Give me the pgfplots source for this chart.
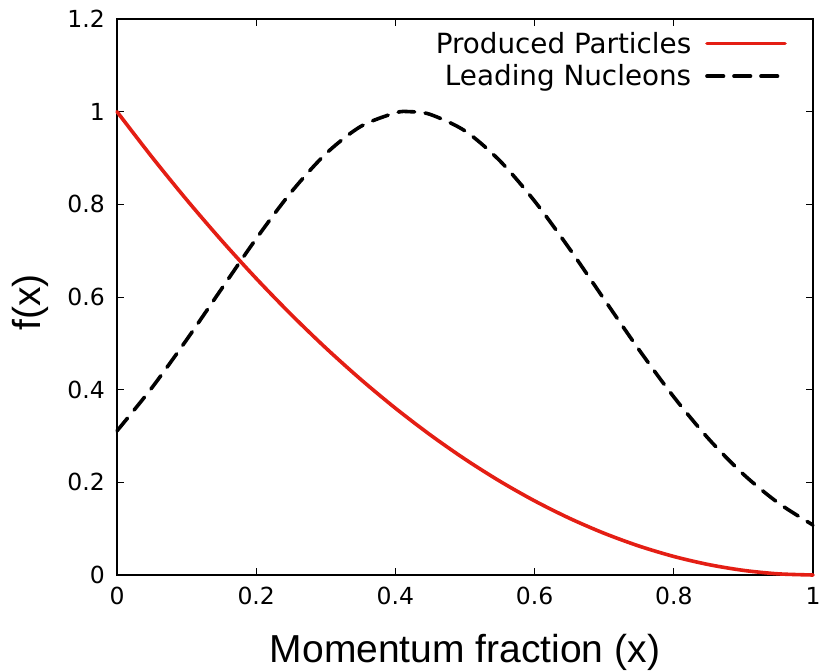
\documentclass[border=0pt]{standalone}
\usepackage{pgfplots}
\pgfplotsset{compat=1.18}
\usepackage{fontspec}
\setmainfont{DejaVu Sans}
\newfontfamily\arialfont{Liberation Sans}
\definecolor{pred}{RGB}{228,30,20}
\begin{document}
\begin{tikzpicture}
\useasboundingbox (-117pt,-95pt) rectangle (708pt,575pt);
\begin{axis}[
 at={(0,0)}, anchor=south west,
 scale only axis, width=696pt, height=556pt,
 xmin=0, xmax=1, ymin=0, ymax=1.2,
 xtick={0,0.2,0.4,0.6,0.8,1}, ytick={0,0.2,0.4,0.6,0.8,1,1.2},
 minor tick num=0,
 tick align=inside, xtick pos=both, ytick pos=both,
 major tick length=7pt,
 every tick/.style={black, line width=0.9pt},
 axis line style={line width=1.1pt},
 clip=false,
 /pgf/number format/assume math mode=true,
 tick label style={font=\fontsize{23.5}{26}\selectfont, inner sep=0pt},
 xticklabel shift=12pt, yticklabel shift=12pt,
 xlabel={Momentum fraction (x)}, ylabel={f(x)},
 every axis x label/.style={at={(axis description cs:0.5,-0.158)}, anchor=base, font=\arialfont\fontsize{39}{42}\selectfont, inner sep=0pt},
 every axis y label/.style={at={(axis description cs:-0.110,0.49)}, rotate=90, anchor=base, font=\arialfont\fontsize{39}{42}\selectfont, inner sep=0pt},
 legend style={at={(axis description cs:1,1)}, anchor=north east, xshift=-26pt, yshift=-13pt, draw=none, fill=none, inner sep=0pt, row sep=10pt, column sep=14pt, font=\fontsize{27.8}{30}\selectfont, nodes={inner sep=0pt}},
 legend cell align=right, legend plot pos=right,
 legend image code/.code={\draw[#1] (0pt,0pt) -- (78pt,0pt);},
]
\addplot[color=pred, line width=3.6pt, line cap=round, smooth] coordinates {
(0,1) (0.05,0.9025) (0.1,0.81) (0.15,0.7225) (0.2,0.64) (0.25,0.5625)
(0.3,0.49) (0.35,0.4225) (0.4,0.36) (0.45,0.3025) (0.5,0.25) (0.55,0.2025)
(0.6,0.16) (0.65,0.1225) (0.7,0.09) (0.75,0.0625) (0.8,0.04) (0.85,0.0225)
(0.9,0.01) (0.95,0.0025) (1,0)
};
\addlegendentry{Produced Particles}
\addplot[black, line width=3.6pt, line cap=round, dash pattern=on 16.5pt off 10.5pt, smooth] coordinates {
(0,0.311) (0.05,0.4039) (0.1,0.5076) (0.15,0.6171) (0.2,0.7258) (0.25,0.8258)
(0.3,0.9090) (0.35,0.9680) (0.4,0.9974) (0.42,1.0) (0.45,0.9941) (0.5,0.9585)
(0.55,0.8941) (0.6,0.8069) (0.65,0.7045) (0.7,0.5950) (0.75,0.4862)
(0.8,0.3843) (0.85,0.2939) (0.9,0.2174) (0.95,0.1556) (1,0.1078)
};
\addlegendentry{Leading Nucleons}
\end{axis}
\end{tikzpicture}
\end{document}
